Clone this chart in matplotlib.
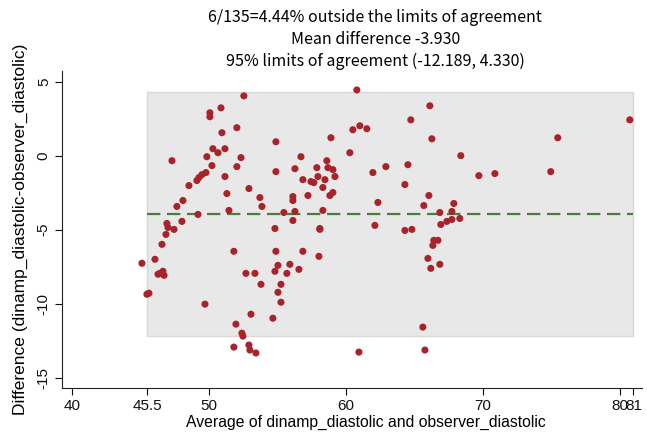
import numpy as np
import matplotlib
matplotlib.use("Agg")
import matplotlib.pyplot as plt

# Bland-Altman: average of the two methods vs. their difference
avg = [45.11, 45.47, 45.62, 46.06, 46.28, 46.42, 46.64, 46.72, 46.57, 46.86,
       46.93, 47.01, 47.45, 47.30, 47.66, 48.03, 48.10, 48.54, 49.12, 49.27,
       49.49, 49.78, 49.85, 50.22, 50.29, 50.66, 50.07, 50.07, 50.88, 50.95,
       51.17, 51.17, 51.31, 51.46, 49.20, 49.71, 52.04, 52.34, 52.04, 52.55,
       52.92, 53.72, 53.87, 51.82, 52.70, 53.36, 53.80, 53.07, 51.97, 52.41,
       52.48, 51.82, 52.92, 52.99, 53.43, 54.89, 54.89, 54.82, 54.89, 55.04,
       54.82, 55.26, 55.04, 55.26, 54.67, 55.47, 56.28, 56.72, 56.86, 56.13,
       56.13, 56.28, 56.13, 57.23, 57.45, 57.66, 57.88, 57.96, 58.47, 58.61,
       58.69, 59.05, 59.20, 58.32, 58.83, 59.05, 58.91, 58.32, 58.10, 56.86,
       55.91, 56.57, 55.69, 58.03, 60.29, 60.51, 61.02, 61.53, 60.80, 61.97,
       62.34, 62.12, 62.92, 60.95, 66.13, 64.74, 66.28, 68.39, 64.53, 64.31,
       69.71, 70.88, 74.96, 75.47, 80.73, 66.06, 65.69, 66.86, 67.88, 67.74,
       66.93, 67.37, 67.74, 68.32, 64.31, 64.82, 66.42, 66.72, 66.35, 65.99,
       66.20, 66.86, 65.62, 65.77, 58.10]
diff = [-7.27, -9.36, -9.29, -7.00, -8.01, -7.95, -7.81, -8.08, -5.99, -5.32,
        -4.58, -4.85, -4.98, -0.34, -3.43, -4.44, -3.03, -2.02, -1.68, -1.48,
        -1.28, -1.14, -0.07, -0.67, 0.47, 0.20, 2.90, 2.63, 3.23, 1.55,
        0.47, -1.41, -2.56, -3.70, -3.97, -10.03, 1.89, -0.13, -0.74, 4.04,
        -2.22, -2.83, -3.43, -6.46, -7.95, -7.95, -8.69, -10.71, -11.38, -11.99,
        -12.19, -12.93, -12.79, -13.13, -13.33, 0.94, -1.08, -4.92, -6.46, -7.41,
        -7.81, -8.69, -9.23, -9.90, -10.98, -3.84, -0.88, -0.07, -1.62, -2.76,
        -3.03, -3.77, -4.38, -2.69, -1.75, -1.82, -0.81, -1.41, -1.62, -0.34,
        -0.81, -0.94, -1.41, -2.15, -2.69, -2.49, 1.21, -3.70, -4.92, -6.46,
        -7.34, -7.68, -7.95, -6.80, 0.20, 1.75, 2.02, 1.82, 4.44, -1.14,
        -3.16, -4.71, -0.74, -13.27, 3.37, 2.42, 1.14, 0.00, -0.61, -1.95,
        -1.35, -1.21, -1.08, 1.21, 2.42, -2.69, -3.37, -3.84, -3.23, -3.77,
        -4.65, -4.44, -4.31, -4.24, -5.05, -4.98, -5.72, -5.72, -6.06, -6.94,
        -7.61, -7.34, -11.58, -13.13, -4.98]

mean_diff = -3.930
lower_loa = -12.189
upper_loa = 4.330
x_min, x_max = 45.5, 81

xticks = [40, 45.5, 50, 60, 70, 80, 81]
xtick_labels = ["40", "45.5", "50", "60", "70", "80", "81"]
yticks = [-15, -10, -5, 0, 5]

subtitle = ["6/135=4.44% outside the limits of agreement",
            "Mean difference -3.930",
            "95% limits of agreement (-12.189, 4.330)"]

plt.rcParams['font.family'] = ['Liberation Sans', 'DejaVu Sans']

fig = plt.figure(figsize=(6.47, 4.32), dpi=100)
ax = fig.add_axes([0.0958, 0.102, 0.896, 0.734])

# limits of agreement band and mean line
ax.fill_between([x_min, x_max], lower_loa, upper_loa, facecolor='#e8e8e8',
                edgecolor='#d8d8d8', linewidth=1, zorder=1)
ax.plot([x_min, x_max], [mean_diff, mean_diff], color='#4a7f3e', lw=1.6,
        dashes=(6, 3), zorder=2)
ax.scatter(avg, diff, s=26, color='#a8232a', edgecolors='none', zorder=3)

ax.set_xlim(39.27, 81.6)
ax.set_ylim(-15.69, 5.73)
ax.set_xticks(xticks)
ax.set_xticklabels(xtick_labels)
ax.set_yticks(yticks)
ax.set_yticklabels([str(t) for t in yticks], rotation=90, va='center')
ax.tick_params(direction='out', length=5, width=0.8, labelsize=11,
               colors='#111111', pad=3)

for s in ['top', 'right']:
    ax.spines[s].set_visible(False)
for s in ['left', 'bottom']:
    ax.spines[s].set_color('#222222')
    ax.spines[s].set_linewidth(0.8)

ax.set_xlabel("Average of dinamp_diastolic and observer_diastolic",
              fontsize=11.3)
ax.xaxis.set_label_coords(0.524, -0.084)
ax.set_ylabel("Difference (dinamp_diastolic-observer_diastolic)",
              fontsize=12.5)
ax.yaxis.set_label_coords(-0.058, 0.5)

for i, line in enumerate(subtitle):
    fig.text(0.58, 1 - (18 + i * 21.5) / 432, line, ha='center', va='center',
             fontsize=11.5, family=['Noto Sans CJK KR', 'DejaVu Sans'])

fig.savefig("out.png", dpi=100)
